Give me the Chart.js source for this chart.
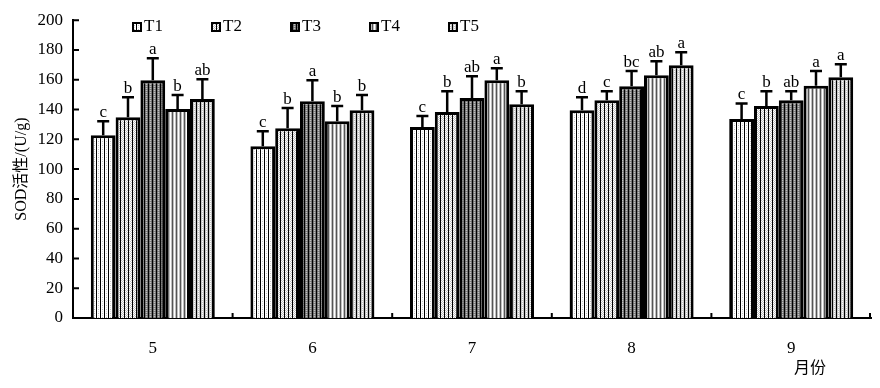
<!DOCTYPE html>
<html>
<head>
<meta charset="utf-8">
<script src="https://cdn.jsdelivr.net/npm/chart.js@4.4.1/dist/chart.umd.min.js"></script>
<style>
html,body{margin:0;padding:0;background:#fff;}
#wrap{width:880px;height:388px;position:relative;}
</style>
</head>
<body>
<div id="wrap"><canvas id="c" width="880" height="388"></canvas></div>
<script>
// ---- data ----
const months = ['5', '6', '7', '8', '9'];
const seriesNames = ['T1', 'T2', 'T3', 'T4', 'T5'];
const T1 = [122.8, 115.4, 128.2, 139.6, 133.6];
const T2 = [134.9, 127.5, 138.3, 146.3, 142.3];
const T3 = [159.7, 145.6, 147.7, 155.7, 146.3];
const T4 = [140.3, 132.2, 159.7, 163.1, 155.9];
const T5 = [147.0, 139.6, 143.6, 169.8, 161.7];
const E1 = [9.4, 10.1, 7.4, 8.7, 10.5];
const E2 = [13.4, 13.5, 14.0, 6.0, 10.0];
const E3 = [14.8, 14.1, 14.7, 10.1, 6.0];
const E4 = [9.4, 10.1, 8.1, 9.4, 9.9];
const E5 = [13.4, 10.1, 8.7, 8.7, 8.8];
const L1 = ['c', 'c', 'c', 'd', 'c'];
const L2 = ['b', 'b', 'b', 'c', 'b'];
const L3 = ['a', 'a', 'ab', 'bc', 'ab'];
const L4 = ['b', 'b', 'a', 'ab', 'a'];
const L5 = ['ab', 'b', 'b', 'a', 'a'];
const yTicks = [0, 20, 40, 60, 80, 100, 120, 140, 160, 180, 200];

const values = [T1, T2, T3, T4, T5];
const errors = [E1, E2, E3, E4, E5];
const letters = [L1, L2, L3, L4, L5];

// ---- patterns ----
function makePattern(kind) {
  const c = document.createElement('canvas');
  c.width = 4; c.height = 4;
  const g = c.getContext('2d');
  const px = (x, y, col) => { g.fillStyle = col; g.fillRect(x, y, 1, 1); };
  if (kind === 0) {
    g.fillStyle = '#ffffff'; g.fillRect(0, 0, 4, 4);
    px(2, 1, '#c0c0c0'); px(2, 3, '#e0e0e0');
    g.fillStyle = '#000'; g.fillRect(0, 0, 1, 4);
  } else if (kind === 1) {
    for (let y = 0; y < 4; y++) for (let x = 0; x < 4; x++) px(x, y, (x + y) % 2 ? '#c0c0c0' : '#ffffff');
    g.fillStyle = '#000'; g.fillRect(0, 0, 1, 4);
  } else if (kind === 2) {
    for (let y = 0; y < 4; y++) for (let x = 0; x < 4; x++) px(x, y, (x + y) % 2 ? '#808080' : '#6a6a6a');
    px(2, 0, '#c0c0c0'); px(2, 2, '#c0c0c0');
    g.fillStyle = '#000'; g.fillRect(0, 0, 1, 4);
  } else if (kind === 3) {
    g.fillStyle = '#c0c0c0'; g.fillRect(0, 0, 4, 4);
    g.fillStyle = '#ffffff'; g.fillRect(2, 0, 1, 4);
    g.fillStyle = '#555'; g.fillRect(0, 0, 1, 4);
  } else {
    g.fillStyle = '#c8c8c8'; g.fillRect(0, 0, 4, 4);
    px(2, 1, '#ffffff'); px(2, 3, '#ffffff');
    g.fillStyle = '#000'; g.fillRect(0, 0, 1, 4);
  }
  return document.getElementById('c').getContext('2d').createPattern(c, 'repeat');
}
const patterns = [0, 1, 2, 3, 4].map(makePattern);

const serif = "'Liberation Serif', 'Times New Roman', serif";
const cjkSerif = "'Liberation Serif', 'Noto Sans CJK SC', serif";

// ---- plugins ----
const extras = {
  id: 'extras',
  afterDatasetsDraw(chart) {
    const ctx = chart.ctx;
    const y = chart.scales.y;
    ctx.save();
    chart.data.datasets.forEach((ds, di) => {
      const meta = chart.getDatasetMeta(di);
      meta.data.forEach((bar, i) => {
        const v = values[di][i], e = errors[di][i];
        const x = bar.x;
        const yTop = y.getPixelForValue(v);
        const yErr = y.getPixelForValue(v + e);
        ctx.strokeStyle = '#000'; ctx.lineWidth = 2.5;
        ctx.beginPath();
        ctx.moveTo(x, yTop); ctx.lineTo(x, yErr);
        ctx.moveTo(x - 6, yErr); ctx.lineTo(x + 6, yErr);
        ctx.stroke();
        ctx.fillStyle = '#000';
        ctx.font = '17px ' + serif;
        ctx.textAlign = 'center'; ctx.textBaseline = 'alphabetic';
        ctx.fillText(letters[di][i], x, yErr - 4);
      });
    });
    ctx.restore();
  },
  afterDraw(chart) {
    const ctx = chart.ctx;
    const xs = chart.scales.x, ys = chart.scales.y;
    ctx.save();
    ctx.strokeStyle = '#000'; ctx.lineWidth = 2;
    // inward x ticks at category boundaries
    const n = months.length;
    const step = (xs.right - xs.left) / n;
    ctx.beginPath();
    for (let i = 1; i <= n; i++) {
      const px = xs.left + i * step;
      ctx.moveTo(px - (i === n ? 1 : 0), xs.top); ctx.lineTo(px - (i === n ? 1 : 0), xs.top - 5);
    }
    // inward y ticks
    yTicks.forEach(t => {
      const py = ys.getPixelForValue(t);
      ctx.moveTo(ys.right, py); ctx.lineTo(ys.right + 6, py);
    });
    ctx.stroke();
    // legend
    const lx0 = 133, ly = 23, gap = 79;
    seriesNames.forEach((name, i) => {
      const bx = lx0 + i * gap;
      ctx.fillStyle = patterns[i];
      ctx.fillRect(bx, ly, 8, 8);
      ctx.lineWidth = 2; ctx.strokeStyle = '#000';
      ctx.strokeRect(bx, ly, 8, 8);
      ctx.fillStyle = '#000';
      ctx.font = '17px ' + serif;
      ctx.textAlign = 'left'; ctx.textBaseline = 'middle';
      ctx.fillText(name, bx + 11, ly + 4);
    });
    // x-axis title
    ctx.font = "16px 'Noto Sans CJK SC', sans-serif";
    ctx.textAlign = 'center'; ctx.textBaseline = 'middle';
    ctx.fillText('月份', 810, 367);
    ctx.restore();
  }
};

new Chart(document.getElementById('c'), {
  type: 'bar',
  data: {
    labels: months,
    datasets: seriesNames.map((name, i) => ({
      label: name,
      data: values[i],
      backgroundColor: patterns[i],
      borderColor: '#000',
      borderWidth: 3,
      borderSkipped: 'bottom',
      categoryPercentage: 0.777,
      barPercentage: 1.0
    }))
  },
  options: {
    responsive: false,
    animation: false,
    events: [],
    layout: { padding: { left: 0, right: 9, top: 20, bottom: 0 } },
    plugins: { legend: { display: false }, tooltip: { enabled: false } },
    scales: {
      x: {
        grid: { display: false, drawTicks: false },
        border: { display: true, color: '#000', width: 2 },
        ticks: { color: '#000', font: { family: serif, size: 17 }, padding: 20 },
        afterFit(s) { s.height = 70; }
      },
      y: {
        min: 0, max: 200,
        afterBuildTicks(s) { s.ticks = yTicks.map(v => ({ value: v })); },
        grid: { display: false, drawTicks: false },
        border: { display: true, color: '#000', width: 2 },
        ticks: { color: '#000', font: { family: serif, size: 17 }, padding: 10 },
        title: {
          display: true, text: 'SOD活性/(U/g)', color: '#000',
          font: { family: cjkSerif, size: 16 }, padding: { top: 12, bottom: 0 }
        },
        afterFit(s) { s.width = 73; }
      }
    }
  },
  plugins: [extras]
});
</script>
</body>
</html>
